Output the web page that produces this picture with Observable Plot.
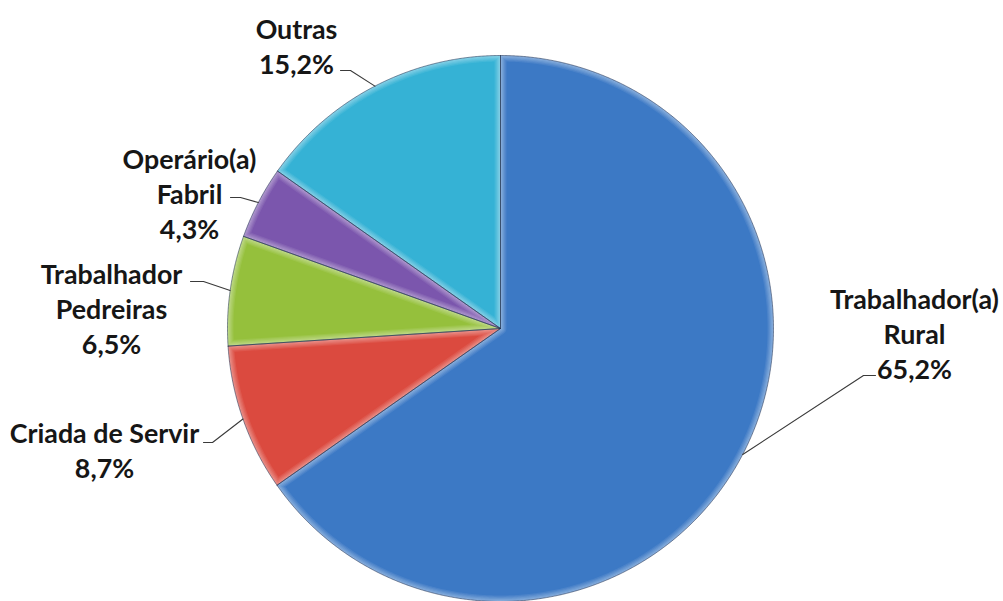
<!DOCTYPE html>
<html>
<head>
<meta charset="utf-8">
<script src="https://cdn.jsdelivr.net/npm/d3@7"></script>
<script src="https://cdn.jsdelivr.net/npm/@observablehq/plot@0.6"></script>
<style>
  html, body { margin: 0; padding: 0; background: #ffffff; }
  #chart { width: 1003px; height: 601px; overflow: hidden; }
</style>
</head>
<body>
<div id="chart"></div>
<script>
// ---- data ----
const categories = ["Trabalhador(a) Rural", "Criada de Servir", "Trabalhador Pedreiras", "Operário(a) Fabril", "Outras"];
const values = [65.2, 8.7, 6.5, 4.3, 15.2];
const labelLines = [["Trabalhador(a)", "Rural"], ["Criada de Servir"], ["Trabalhador", "Pedreiras"], ["Operário(a)", "Fabril"], ["Outras"]];
const colors = ["#3c79c5", "#db4a3f", "#95c03c", "#7b56ad", "#35b2d5"];

// ---- layout (pixels) ----
const W = 1003, H = 601, CX = 500, CY = 328, R = 273;
const labelAnchors = [[914, 332], [104, 449], [111, 307], [189, 192], [296, 45]];
const leaderElbows = [[[863, 375], [875, 375]], [[212, 442], [203, 442]], [[203, 281], [190, 281]], [[240, 197], [230, 197]], [[350, 70], [340, 70]]];
const bevelInsets = [0, 1.2, 2.4, 3.6, 4.8, 6];   // px, soft edge highlight layers
const toU = ([px, py]) => ({u: (px - CX) / R, v: (CY - py) / R});

const data = categories.map((name, i) => ({name, value: values[i]}));
const arcs = d3.pie().sort(null).value(d => d.value)(data);

// wedge polygon inset by d pixels (unit-circle coordinates)
function wedge(a0, a1, d, name) {
  const pts = [];
  const rho = (R - d) / R;
  const dd = d / R;
  const delta = d > 0 ? Math.asin(dd / rho) : 0;
  const s0 = a0 + delta, s1 = a1 - delta;
  const n = Math.max(2, Math.ceil((s1 - s0) / 0.005));
  for (let k = 0; k <= n; k++) {
    const ang = s0 + (s1 - s0) * k / n;
    pts.push({name, u: rho * Math.sin(ang), v: rho * Math.cos(ang)});
  }
  const theta = a1 - a0;
  if (theta <= Math.PI) {
    const r = d > 0 ? dd / Math.sin(theta / 2) : 0;
    const m = (a0 + a1) / 2;
    pts.push({name, u: r * Math.sin(m), v: r * Math.cos(m)});
  } else {
    const b0 = a1 - Math.PI / 2, b1 = a0 + Math.PI / 2;
    for (let k = 0; k <= 12; k++) {
      const ang = b0 + (b1 - b0) * k / 12;
      pts.push({name, u: dd * Math.sin(ang), v: dd * Math.cos(ang)});
    }
  }
  pts.push(pts[0]);
  return pts;
}

const sliceLayers = [];
arcs.forEach((a, i) => {
  const base = colors[i];
  const light = d3.interpolateRgb(base, "#ffffff")(0.38);
  bevelInsets.forEach((d, j) => {
    const t = j / (bevelInsets.length - 1);
    sliceLayers.push({pts: wedge(a.startAngle, a.endAngle, d, a.data.name), color: d3.interpolateRgb(light, base)(t)});
  });
});
const outline = arcs.flatMap(a => wedge(a.startAngle, a.endAngle, 0, a.data.name));

const leaderPts = arcs.flatMap((a, i) => {
  const mid = (a.startAngle + a.endAngle) / 2;
  return [
    {name: a.data.name, u: Math.sin(mid), v: Math.cos(mid)},
    {name: a.data.name, ...toU(leaderElbows[i][0])},
    {name: a.data.name, ...toU(leaderElbows[i][1])}
  ];
});

const fmt = v => v.toFixed(1).replace(".", ",") + "%";
const labels = arcs.map((a, i) => ({
  ...toU(labelAnchors[i]),
  text: [...labelLines[i], fmt(values[i])].join("\n")
}));

const chart = Plot.plot({
  width: W, height: H, margin: 0,
  x: {domain: [-CX / R, (W - CX) / R], range: [0, W], axis: null},
  y: {domain: [-(H - CY) / R, CY / R], range: [H, 0], axis: null},
  style: {background: "#ffffff", fontFamily: "Lato, 'Open Sans', sans-serif"},
  marks: [
    ...sliceLayers.map(L => Plot.line(L.pts, {x: "u", y: "v", fill: L.color, stroke: "none", curve: "linear"})),
    Plot.line(outline, {x: "u", y: "v", z: "name", stroke: "#1f3050", strokeOpacity: 0.55, strokeWidth: 1, curve: "linear"}),
    Plot.line(leaderPts, {x: "u", y: "v", z: "name", stroke: "#3a3a3a", strokeWidth: 1.1, curve: "linear"}),
    Plot.text(labels, {x: "u", y: "v", text: "text", fontSize: 26.8, fontWeight: "bold", lineHeight: 1.31, fill: "#161616"})
  ]
});

document.getElementById("chart").appendChild(chart);
</script>
</body>
</html>
